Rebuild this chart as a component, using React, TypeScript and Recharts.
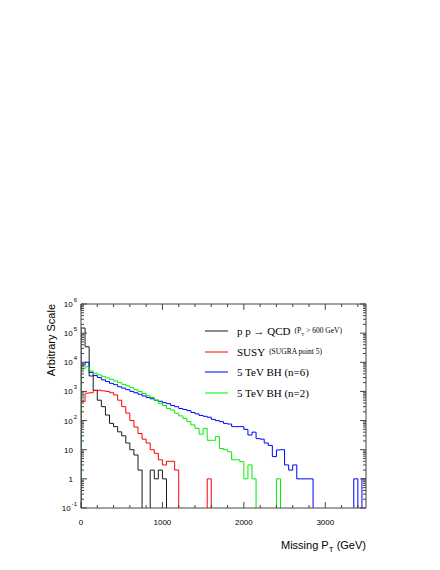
import React from "react";
import { Legend, Line, LineChart, XAxis, YAxis } from "recharts";

// 50 GeV bins from 0 to 3500 GeV; zero bins drop below the frame
const BIN_WIDTH = 50;
const X_MAX = 3500;
const QCD = [
  150000, 34000, 3400, 1100, 500, 300, 155, 80, 62, 41,
  30, 17, 10, 6.6, 2, 0, 0, 2, 1, 2,
  1, 0, 0, 0, 0, 0, 0, 0, 0, 0,
  0, 0, 0, 0, 0, 0, 0, 0, 0, 0,
  0, 0, 0, 0, 0, 0, 0, 0, 0, 0,
  0, 0, 0, 0, 0, 0, 0, 0, 0, 0,
  0, 0, 0, 0, 0, 0, 0, 0, 0, 0,
];
const SUSY = [
  450, 870, 900, 1070, 1100, 1050, 1000, 900, 760, 500,
  300, 180, 100, 60, 36, 23, 17, 10, 7.5, 4.5,
  3, 4, 4, 2, 0, 0, 0, 0, 0, 0,
  0, 1, 0, 0, 0, 0, 0, 0, 0, 0,
  0, 0, 0, 0, 0, 0, 0, 0, 0, 0,
  0, 0, 0, 0, 0, 0, 0, 0, 0, 0,
  0, 0, 0, 0, 0, 0, 0, 0, 0, 0,
];
const BH_N6 = [
  8000, 10000, 4500, 3500, 3000, 2500, 2200, 1900, 1700, 1450,
  1300, 1150, 1000, 900, 800, 700, 620, 560, 500, 460,
  410, 380, 330, 300, 260, 240, 220, 190, 170, 150,
  140, 130, 110, 100, 92, 80, 76, 62, 62, 62,
  50, 32, 40, 24, 23, 17, 14, 5.8, 9.8, 10,
  3, 2, 3, 1, 1, 1, 1, 0, 0, 0,
  0, 0, 0, 0, 0, 0, 0, 1, 0, 1,
];
const BH_N2 = [
  6000, 7000, 5000, 4200, 3700, 3300, 2900, 2600, 2300, 2000,
  1750, 1550, 1350, 1150, 1000, 850, 720, 620, 500, 390,
  330, 260, 230, 178, 145, 120, 92, 71, 54, 34,
  54, 21, 21, 28, 11, 10, 8.5, 4.5, 4.5, 3.9,
  1, 3, 1, 0, 0, 0, 0, 0, 1, 0,
  0, 0, 0, 0, 0, 0, 0, 0, 0, 0,
  0, 0, 0, 0, 0, 0, 0, 0, 0, 0,
];

const SERIES = [
  { key: "qcd", name: "p p → QCD", note: "qcd", values: QCD, color: "#1a1a1a" },
  { key: "susy", name: "SUSY", note: "susy", values: SUSY, color: "#ff0000" },
  { key: "bh6", name: "5 TeV BH (n=6)", note: "", values: BH_N6, color: "#0000ff" },
  { key: "bh2", name: "5 TeV BH (n=2)", note: "", values: BH_N2, color: "#00ee00" },
];

const X_TICKS = [0, 200, 400, 600, 800, 1000, 1200, 1400, 1600, 1800, 2000, 2200, 2400, 2600, 2800, 3000, 3200, 3400];
const DECADES = [-1, 0, 1, 2, 3, 4, 5, 6];
const FLOOR = 0.01; // below the axis, gets clipped

const Y_TICKS: number[] = [];
for (const e of DECADES) {
  const mults = e === 6 ? [1] : [1, 2, 3, 4, 5, 6, 7, 8, 9];
  for (const m of mults) Y_TICKS.push(Number((m * Math.pow(10, e)).toPrecision(3)));
}

const toSteps = (vals: number[]) => {
  const pts = [{ x: 0, y: FLOOR }];
  vals.forEach((v, i) => pts.push({ x: i * BIN_WIDTH, y: v > 0 ? v : FLOOR }));
  const last = vals[vals.length - 1];
  pts.push({ x: X_MAX, y: last > 0 ? last : FLOOR });
  return pts;
};

const AXIS = "#444";
const SANS = "'Liberation Sans', Arial, sans-serif";
const SERIF = "'Liberation Serif', 'Times New Roman', serif";

function XTick({ x, y, payload, top }: any) {
  const v = payload.value;
  const major = v % 1000 === 0;
  const len = major ? 6 : 3;
  return (
    <g>
      <line x1={x} x2={x} y1={y} y2={top ? y + len : y - len} stroke={AXIS} />
      {!top && major && (
        <text x={x} y={y + 17} textAnchor="middle" fontSize={8} fontFamily={SANS} fill="#000">
          {v}
        </text>
      )}
    </g>
  );
}

function YTick({ x, y, payload, right }: any) {
  const v = payload.value;
  const e = Math.round(Math.log10(v));
  const major = Math.abs(Math.log10(v) - e) < 1e-6;
  const len = major ? 6 : 3;
  let label = null;
  if (!right && major) {
    label =
      e === 0 || e === 1 ? (
        <text x={x - 8} y={y + 3} textAnchor="end" fontSize={8} fontFamily={SANS} fill="#000">
          {e === 0 ? "1" : "10"}
        </text>
      ) : (
        <text x={x - 4} y={y + 3} textAnchor="end" fontSize={8} fontFamily={SANS} fill="#000">
          10
          <tspan fontSize={6} dx={1} dy={-5}>
            {e}
          </tspan>
        </text>
      );
  }
  return (
    <g>
      <line x1={x} x2={right ? x - len : x + len} y1={y} y2={y} stroke={AXIS} />
      {label}
    </g>
  );
}

function LegendBox() {
  return (
    <div style={{ fontFamily: SERIF, fontSize: 11, color: "#000" }}>
      {SERIES.map((s) => (
        <div key={s.key} style={{ height: 20.5, display: "flex", alignItems: "center", whiteSpace: "nowrap" }}>
          <svg width={23} height={4} style={{ marginRight: 9 }}>
            <line x1={0} x2={23} y1={2} y2={2} stroke={s.color} strokeWidth={1} />
          </svg>
          <span>{s.name}</span>
          {s.note === "qcd" && (
            <span style={{ fontSize: 7.5, marginLeft: 4 }}>
              (P<sub style={{ fontSize: 5 }}>T</sub> &gt; 600 GeV)
            </span>
          )}
          {s.note === "susy" && <span style={{ fontSize: 7.5, marginLeft: 4 }}>(SUGRA point 5)</span>}
        </div>
      ))}
    </div>
  );
}

export default function App() {
  return (
    <div style={{ position: "absolute", left: 0, top: 0, width: 440, height: 570, background: "#fff" }}>
      <LineChart width={440} height={570} margin={{ top: 294, right: 64, bottom: 32, left: 41 }}>
        <XAxis
          xAxisId="bottom"
          type="number"
          dataKey="x"
          domain={[0, X_MAX]}
          allowDataOverflow
          ticks={X_TICKS}
          interval={0}
          height={30}
          tickSize={0}
          tickMargin={0}
          tickLine={false}
          axisLine={{ stroke: AXIS }}
          tick={<XTick />}
        />
        <XAxis
          xAxisId="top"
          orientation="top"
          type="number"
          dataKey="x"
          domain={[0, X_MAX]}
          allowDataOverflow
          ticks={X_TICKS}
          interval={0}
          height={10}
          tickSize={0}
          tickMargin={0}
          tickLine={false}
          axisLine={{ stroke: AXIS }}
          tick={<XTick top />}
        />
        <YAxis
          yAxisId="left"
          scale="log"
          type="number"
          domain={[0.1, 1000000]}
          allowDataOverflow
          ticks={Y_TICKS}
          interval={0}
          width={40}
          tickSize={0}
          tickMargin={0}
          tickLine={false}
          axisLine={{ stroke: AXIS }}
          tick={<YTick />}
        />
        <YAxis
          yAxisId="right"
          orientation="right"
          scale="log"
          type="number"
          domain={[0.1, 1000000]}
          allowDataOverflow
          ticks={Y_TICKS}
          interval={0}
          width={10}
          tickSize={0}
          tickMargin={0}
          tickLine={false}
          axisLine={{ stroke: AXIS }}
          tick={<YTick right />}
        />
        <Legend
          layout="horizontal"
          align="center"
          verticalAlign="middle"
          wrapperStyle={{ left: 205, top: 321, width: 180 }}
          content={<LegendBox />}
        />
        {SERIES.map((s) => (
          <Line
            key={s.key}
            xAxisId="bottom"
            yAxisId="left"
            data={toSteps(s.values)}
            dataKey="y"
            name={s.name}
            type="stepAfter"
            stroke={s.color}
            strokeWidth={1}
            dot={false}
            activeDot={false}
            isAnimationActive={false}
          />
        ))}
      </LineChart>
      <svg width={440} height={570} style={{ position: "absolute", left: 0, top: 0, pointerEvents: "none" }}>
        <text
          transform="translate(55,304) rotate(-90)"
          textAnchor="end"
          fontSize={11}
          fontFamily={SANS}
          fill="#000"
        >
          Arbitrary Scale
        </text>
        <text x={366} y={549} textAnchor="end" fontSize={11} fontFamily={SANS} fill="#000">
          Missing P
          <tspan fontSize={8} dy={3}>T</tspan>
          <tspan dy={-3}> (GeV)</tspan>
        </text>
      </svg>
    </div>
  );
}
